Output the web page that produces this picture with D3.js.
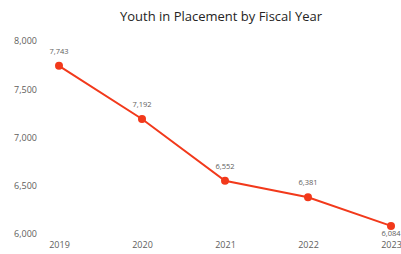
<!DOCTYPE html>
<html>
<head>
<meta charset="utf-8">
<script src="https://cdn.jsdelivr.net/npm/d3@7"></script>
<style>
  body { margin: 0; background: #fff; }
  svg { display: block; font-family: "Open Sans", sans-serif; }
</style>
</head>
<body>
<script>
// chart data
var years = ["2019", "2020", "2021", "2022", "2023"];
var youth = [7743, 7192, 6552, 6381, 6084];
var yTicks = [6000, 6500, 7000, 7500, 8000];

var W = 401, H = 254;

var svg = d3.select("body").append("svg")
   .attr("width", W)
   .attr("height", H);

svg.append("text")
   .attr("x", 221)
   .attr("y", 21)
   .attr("text-anchor", "middle")
   .style("font-size", "13px")
   .style("fill", "#252423")
   .text("Youth in Placement by Fiscal Year");

var x = d3.scalePoint().domain(years).range([59, 391]);
var y = d3.scaleLinear().domain([6000, 8000]).range([234, 41]);

// y axis labels
var yAxis = d3.axisLeft(y)
   .tickValues(yTicks)
   .tickFormat(d3.format(","))
   .tickSize(0)
   .tickPadding(0);

svg.append("g")
   .attr("transform", "translate(37,0)")
   .call(yAxis)
   .call(function(g) { g.select(".domain").remove(); })
   .selectAll("text")
   .style("font-family", "Open Sans, sans-serif")
   .style("font-size", "9px")
   .style("fill", "#605e5c");

// x axis labels
var xAxis = d3.axisBottom(x).tickSize(0).tickPadding(0);
svg.append("g")
   .attr("transform", "translate(0,242)")
   .call(xAxis)
   .call(function(g) { g.select(".domain").remove(); })
   .selectAll("text")
   .style("font-family", "Open Sans, sans-serif")
   .style("font-size", "9px")
   .style("fill", "#605e5c");

var pts = years.map(function(d, i) { return { year: d, value: youth[i] }; });

var line = d3.line()
   .x(function(d) { return x(d.year); })
   .y(function(d) { return y(d.value); });

svg.append("path")
   .datum(pts)
   .attr("d", line)
   .attr("fill", "none")
   .attr("stroke", "#f2391b")
   .attr("stroke-width", 2);

svg.selectAll("circle.pt")
   .data(pts)
   .enter().append("circle")
   .attr("class", "pt")
   .attr("cx", function(d) { return x(d.year); })
   .attr("cy", function(d) { return y(d.value); })
   .attr("r", 4)
   .attr("fill", "#f2391b");

// data labels (last one sits under the point)
svg.selectAll("text.lbl")
   .data(pts)
   .enter().append("text")
   .attr("class", "lbl")
   .attr("x", function(d) { return x(d.year); })
   .attr("y", function(d, i) { return i == pts.length - 1 ? y(d.value) + 10 : y(d.value) - 12; })
   .attr("text-anchor", "middle")
   .style("font-size", "7.5px")
   .style("fill", "#605e5c")
   .text(function(d) { return d3.format(",")(d.value); });
</script>
</body>
</html>
